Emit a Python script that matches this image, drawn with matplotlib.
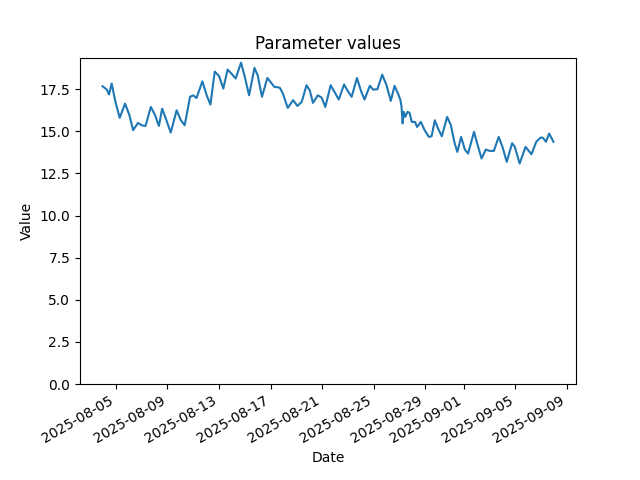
import matplotlib
matplotlib.use('Agg')
import matplotlib.pyplot as plt
import pandas as pd

# readings taken off the chart (roughly peaks and troughs of each daily swing)
timestamps = [
    '2025-08-03 23:00', '2025-08-04 07:00', '2025-08-04 11:00', '2025-08-04 16:00',
    '2025-08-04 23:00', '2025-08-05 07:00', '2025-08-05 17:00', '2025-08-06 01:00',
    '2025-08-06 08:00', '2025-08-06 17:00', '2025-08-07 00:00', '2025-08-07 07:00',
    '2025-08-07 17:00', '2025-08-08 01:00', '2025-08-08 08:00', '2025-08-08 14:00',
    '2025-08-08 22:00', '2025-08-09 06:00', '2025-08-09 17:00', '2025-08-10 01:00',
    '2025-08-10 08:00', '2025-08-10 18:00', '2025-08-11 00:00', '2025-08-11 06:00',
    '2025-08-11 17:00', '2025-08-12 01:00', '2025-08-12 08:00', '2025-08-12 16:00',
    '2025-08-13 00:00', '2025-08-13 08:00', '2025-08-13 16:00', '2025-08-13 23:00',
    '2025-08-14 07:00', '2025-08-14 17:00', '2025-08-15 00:00', '2025-08-15 08:00',
    '2025-08-15 18:00', '2025-08-16 00:00', '2025-08-16 08:00', '2025-08-16 18:00',
    '2025-08-16 23:00', '2025-08-17 07:00', '2025-08-17 17:00', '2025-08-17 23:00',
    '2025-08-18 08:00', '2025-08-18 18:00', '2025-08-19 02:00', '2025-08-19 10:00',
    '2025-08-19 19:00', '2025-08-20 01:00', '2025-08-20 07:00', '2025-08-20 16:00',
    '2025-08-20 23:00', '2025-08-21 06:00', '2025-08-21 16:00', '2025-08-22 00:00',
    '2025-08-22 07:00', '2025-08-22 17:00', '2025-08-22 23:00', '2025-08-23 07:00',
    '2025-08-23 17:00', '2025-08-24 00:00', '2025-08-24 07:00', '2025-08-24 17:00',
    '2025-08-24 23:00', '2025-08-25 07:00', '2025-08-25 16:00', '2025-08-26 00:00',
    '2025-08-26 08:00', '2025-08-26 15:00', '2025-08-26 22:00', '2025-08-27 02:00',
    '2025-08-27 04:00', '2025-08-27 06:00', '2025-08-27 08:00', '2025-08-27 11:00',
    '2025-08-27 15:00', '2025-08-27 19:00', '2025-08-27 23:00', '2025-08-28 05:00',
    '2025-08-28 09:00', '2025-08-28 16:00', '2025-08-28 23:00', '2025-08-29 07:00',
    '2025-08-29 12:00', '2025-08-29 18:00', '2025-08-30 00:00', '2025-08-30 07:00',
    '2025-08-30 17:00', '2025-08-31 00:00', '2025-08-31 07:00', '2025-08-31 12:00',
    '2025-08-31 19:00', '2025-09-01 02:00', '2025-09-01 08:00', '2025-09-01 19:00',
    '2025-09-02 01:00', '2025-09-02 09:00', '2025-09-02 17:00', '2025-09-03 00:00',
    '2025-09-03 08:00', '2025-09-03 17:00', '2025-09-04 00:00', '2025-09-04 08:00',
    '2025-09-04 18:00', '2025-09-04 23:00', '2025-09-05 08:00', '2025-09-05 19:00',
    '2025-09-06 06:00', '2025-09-06 15:00', '2025-09-06 23:00', '2025-09-07 03:00',
    '2025-09-07 09:00', '2025-09-07 15:00', '2025-09-07 19:00', '2025-09-07 23:00',
]
values = [
    17.68, 17.48, 17.19, 17.84, 16.75, 15.80, 16.65, 15.96,
    15.07, 15.50, 15.36, 15.32, 16.45, 15.95, 15.32, 16.35,
    15.66, 14.93, 16.25, 15.66, 15.36, 17.05, 17.14, 16.98,
    17.97, 17.14, 16.59, 18.55, 18.29, 17.54, 18.67, 18.43,
    18.14, 19.08, 18.23, 17.14, 18.77, 18.33, 17.05, 18.17,
    17.97, 17.64, 17.60, 17.24, 16.39, 16.85, 16.51, 16.75,
    17.74, 17.44, 16.69, 17.14, 17.01, 16.45, 17.74, 17.29,
    16.89, 17.78, 17.44, 17.05, 18.17, 17.44, 16.89, 17.71,
    17.48, 17.50, 18.37, 17.74, 16.81, 17.70, 17.20, 16.85,
    16.45, 15.47, 16.16, 15.86, 16.16, 16.10, 15.56, 15.56,
    15.26, 15.56, 15.07, 14.67, 14.71, 15.66, 15.17, 14.71,
    15.86, 15.36, 14.28, 13.78, 14.67, 13.92, 13.68, 14.97,
    14.28, 13.39, 13.92, 13.84, 13.84, 14.67, 14.08, 13.19,
    14.30, 14.08, 13.09, 14.08, 13.64, 14.38, 14.63, 14.63,
    14.38, 14.87, 14.63, 14.38,
]

dates = pd.to_datetime(timestamps)

fig = plt.figure(figsize=(6.4, 4.8), dpi=100)
plt.plot(dates, values)
plt.title('Parameter values')
plt.xlabel('Date')
plt.ylabel('Value')
plt.ylim(bottom=0)
fig.autofmt_xdate()
plt.savefig('out.png')
